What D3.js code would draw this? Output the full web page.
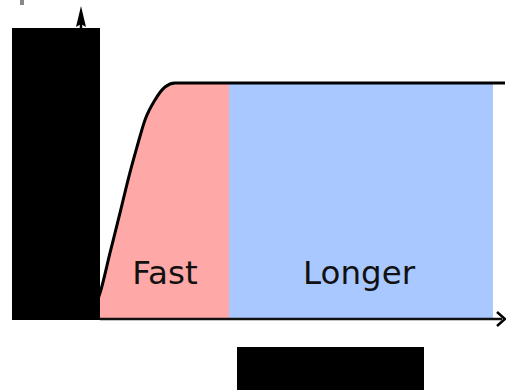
<!DOCTYPE html>
<html>
<head>
<meta charset="utf-8">
<script src="https://cdn.jsdelivr.net/npm/d3@7"></script>
<style>
  body { margin: 0; background: #fff; }
  svg { display: block; }
</style>
</head>
<body>
<svg width="506" height="390"></svg>
<script>
// curve (time, level)
let curveT = [-2, 0, 2.5, 5, 7, 9.25, 11.25, 13.75, 16.25, 18.75, 101.25];
let curveV = [2, 10.6, 27.7, 44.7, 58.7, 72.8, 84.3, 92.8, 98.3, 100, 100];

let phaseNames = ['Fast', 'Longer'];
let phaseStart = [0, 32.25];
let phaseEnd = [32.25, 98.25];
let phaseColors = ['#ffa8a8', '#a8c8ff'];

let data = curveT.map(function(t, i) { return { t: t, v: curveV[i] }; });

let svg = d3.select('svg');

let xScale = d3.scaleLinear()
               .domain([0, 100])
               .range([100, 500]);

let yScale = d3.scaleLinear()
               .domain([0, 100])
               .range([318, 83]);

let area = d3.area()
             .curve(d3.curveMonotoneX)
             .x(function(d) { return xScale(d.t); })
             .y0(yScale(0))
             .y1(function(d) { return yScale(d.v); });

let line = d3.line()
             .curve(d3.curveMonotoneX)
             .x(function(d) { return xScale(d.t); })
             .y(function(d) { return yScale(d.v); });

let defs = svg.append('defs');

phaseNames.forEach(function(name, i) {
  defs.append('clipPath')
      .attr('id', 'clip' + i)
      .append('rect')
      .attr('x', xScale(phaseStart[i]))
      .attr('y', 0)
      .attr('width', xScale(phaseEnd[i]) - xScale(phaseStart[i]))
      .attr('height', yScale(0));

  svg.append('path')
     .attr('d', area(data))
     .attr('clip-path', 'url(#clip' + i + ')')
     .attr('fill', phaseColors[i]);
});

// y axis with arrow head
svg.append('line')
   .attr('x1', 81).attr('y1', yScale(0))
   .attr('x2', 81).attr('y2', 20)
   .attr('stroke', '#000')
   .attr('stroke-width', 2.5);

svg.append('path')
   .attr('d', 'M81,6 L86,27 L81,24 L76,27 Z')
   .attr('fill', '#000');

// x axis with arrow head
svg.append('line')
   .attr('x1', xScale(0)).attr('y1', yScale(0) + 1)
   .attr('x2', 502).attr('y2', yScale(0) + 1)
   .attr('stroke', '#111')
   .attr('stroke-width', 2.5);

svg.append('path')
   .attr('d', 'M497,312 L505,319 L497,326')
   .attr('fill', 'none')
   .attr('stroke', '#000')
   .attr('stroke-width', 2.5);

svg.append('path')
   .attr('d', line(data))
   .attr('fill', 'none')
   .attr('stroke', '#000')
   .attr('stroke-width', 3);

svg.selectAll('text.phase')
   .data(phaseNames)
   .enter()
   .append('text')
   .attr('class', 'phase')
   .attr('x', function(d, i) {
     return i === 0 ? 165 : 359;
   })
   .attr('y', 284)
   .attr('text-anchor', 'middle')
   .style('font-family', 'DejaVu Sans, Verdana, sans-serif')
   .style('font-size', '32.5px')
   .style('fill', '#111')
   .text(function(d) { return d; });

// redaction boxes over the axis labels
svg.append('rect')
   .attr('x', 12).attr('y', 28)
   .attr('width', 88).attr('height', 292)
   .attr('fill', '#000');

svg.append('rect')
   .attr('x', 237).attr('y', 347)
   .attr('width', 187).attr('height', 43)
   .attr('fill', '#000');

svg.append('rect')
   .attr('x', 20).attr('y', 0)
   .attr('width', 4).attr('height', 5)
   .attr('fill', '#888');
</script>
</body>
</html>
